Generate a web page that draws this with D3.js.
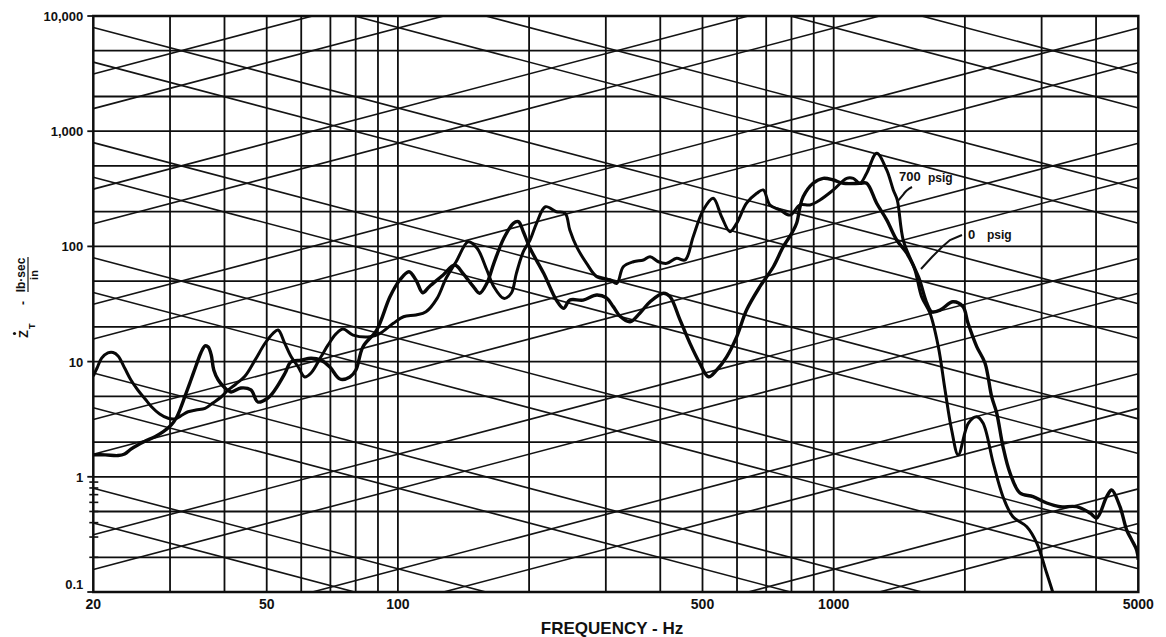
<!DOCTYPE html>
<html>
<head>
<meta charset="utf-8">
<script src="https://d3js.org/d3.v7.min.js"></script>
<style>
  body { margin: 0; background: #fff; }
  svg text { font-family: "Liberation Sans", Arial, sans-serif; font-weight: bold; fill: #111; }
</style>
</head>
<body>
<svg id="chart" width="1166" height="637"></svg>
<script>
// trace: 0 psig
const freq0 = [20, 21.3, 22.8, 23.6, 24.4, 25.3, 26.4, 27.7, 28.9, 30.2, 31.0, 31.8, 32.6, 33.5, 34.4, 35.3, 36.1, 36.7, 37.3, 37.8,
  38.7, 39.9, 41.4, 43.6, 46.0, 47.7, 50.3, 52.2, 55.1, 56.8, 59.9, 63.2, 66.6, 69.8, 73.6, 77.6, 80.1, 83.1, 89.4, 95.9,
  101, 106, 110, 114, 118, 127, 135, 141, 149, 154, 160, 166, 175, 184, 189, 194, 201, 216, 231, 240,
  248, 266, 286, 301, 312, 323, 341, 359, 379, 407, 421, 444, 468, 493, 516, 539, 568, 599, 631, 677,
  727, 766, 801, 822, 837, 851, 897, 946, 998, 1052, 1149, 1190, 1255, 1323, 1395, 1470, 1564, 1635, 1678, 1754,
  1878, 1980, 2033, 2129, 2224, 2304, 2366, 2446, 2538, 2676, 2867, 3081, 3306, 3611, 3874, 4013, 4231, 4344, 4539, 4703,
  4829, 4958, 5000];
const imp0 = [1.55, 1.55, 1.53, 1.58, 1.74, 1.89, 2.05, 2.23, 2.45, 2.82, 3.24, 4.04, 5.23, 6.92, 9.16, 11.9, 13.7, 13.4, 11.4, 8.45,
  6.92, 6.02, 5.45, 5.90, 5.67, 4.46, 4.83, 5.67, 7.96, 9.92, 10.3, 10.7, 10.3, 8.98, 7.06, 7.35, 8.45, 13.4, 18.8, 36.6,
  51.1, 60.3, 51.1, 39.6, 44.7, 56.4, 68.9, 58.4, 44.7, 39.2, 47.8, 71.3, 117.6, 158.7, 163.9, 134.2, 96.3, 58.4, 34.2, 29.0,
  34.2, 34.2, 37.9, 35.7, 30.0, 24.9, 22.2, 26.3, 33.1, 39.2, 36.6, 23.0, 14.4, 9.66, 7.39, 8.45, 11.0, 16.4, 28.0, 44.7,
  66.6, 99.4, 129.9, 158.7, 221, 270, 353, 390, 377, 353, 353, 353, 237, 170, 113.6, 87.7, 54.6, 32.3, 27.1, 28.0,
  33.1, 30.0, 21.6, 13.5, 9.72, 4.96, 3.58, 1.83, 1.08, 0.724, 0.672, 0.592, 0.550, 0.550, 0.485, 0.439, 0.672, 0.768, 0.550, 0.345,
  0.283, 0.231, 0.190];

// trace: 700 psig
const freq700 = [20, 20.4, 20.9, 21.6, 22.2, 22.8, 23.6, 24.4, 25.3, 26.3, 27.2, 28.4, 29.7, 30.8, 32.0, 33.0, 34.4, 36.1, 37.6, 39.3,
  40.8, 42.5, 44.6, 47.0, 49.6, 51.7, 53.1, 55.0, 56.9, 59.0, 61.1, 63.2, 66.6, 69.1, 72.1, 74.8, 78.9, 86.3, 91.0, 97.6,
  103, 110, 116, 123, 129, 136, 145, 152, 160, 166, 175, 182, 187, 194, 201, 208, 218, 231, 242, 248,
  257, 271, 286, 307, 318, 329, 347, 366, 379, 396, 414, 436, 456, 476, 502, 529, 553, 578, 599, 631,
  666, 689, 714, 753, 794, 837, 882, 930, 998, 1071, 1109, 1149, 1190, 1255, 1323, 1370, 1399, 1444, 1536, 1591,
  1663, 1738, 1801, 1865, 1931, 2036, 2129, 2201, 2324, 2446, 2578, 2774, 2924, 3081, 3186, 3271];
const imp700 = [7.5, 8.8, 10.7, 11.9, 12.0, 11.2, 8.8, 6.92, 5.67, 4.74, 4.06, 3.51, 3.22, 3.18, 3.44, 3.67, 3.80, 3.93, 4.37, 4.93,
  5.67, 6.39, 7.5, 10.3, 14.5, 17.6, 18.8, 14.4, 11.0, 9.03, 7.35, 7.96, 11.0, 13.9, 17.4, 19.2, 17.0, 16.4, 17.6, 21.5,
  24.5, 25.4, 27.1, 35.4, 52.9, 73.6, 109.8, 96.3, 62.4, 44.7, 35.4, 39.2, 58.4, 89.9, 113.6, 158.7, 221, 200, 193.8, 138.8,
  99.4, 71.3, 54.6, 51.1, 47.8, 66.6, 73.6, 76.2, 81.4, 73.6, 71.3, 78.8, 76.2, 121.4, 207, 261.5, 181, 134.2, 158.7, 237,
  289, 309, 229, 207, 187, 229, 229, 253, 309, 390, 390, 353, 431, 643, 461, 309, 253, 113.6, 62.4, 36.6,
  26.4, 13.5, 5.67, 2.55, 1.55, 2.91, 3.32, 2.93, 1.31, 0.672, 0.450, 0.369, 0.266, 0.146, 0.098, 0.070];

// axes and grid
const xTickValues = [20, 50, 100, 500, 1000, 5000];
const xTickLabels = ["20", "50", "100", "500", "1000", "5000"];
const yTickValues = [10000, 1000, 100, 10, 1, 0.1];
const yTickLabels = ["10,000", "1,000", "100", "10", "1", "0.1"];
const xGridValues = [30, 40, 50, 60, 70, 80, 90, 100, 200, 300, 400, 500, 600, 700, 800, 900, 1000, 2000, 3000, 4000];
const yGridValues = [0.2, 0.5, 1, 2, 5, 10, 20, 50, 100, 200, 500, 1000, 2000, 5000];
const yMinorTicks = [0.2, 0.3, 0.4, 0.5, 0.6, 0.7, 0.8, 0.9];
// diagonal lines: mass (Z = 2 pi f m) and stiffness (Z = k / 2 pi f)
const massLines = [1.25e-5, 2.5e-5, 1.25e-4, 2.5e-4, 1.25e-3, 2.5e-3, 0.0125, 0.025, 0.125, 0.25, 1.25, 2.5, 12.5, 25];
const stiffnessLines = [50, 100, 500, 1e3, 5e3, 1e4, 5e4, 1e5, 5e5, 1e6, 5e6, 1e7, 5e7, 1e8];

const svg = d3.select("#chart");
const plotL = 93.3, plotR = 1138.3, plotT = 16, plotB = 592;

const x = d3.scaleLog().domain([20, 5000]).range([plotL, plotR]);
const y = d3.scaleLog().domain([0.1, 10000]).range([plotB, plotT]);

svg.append("defs").append("clipPath").attr("id", "plotClip")
  .append("rect").attr("x", plotL).attr("y", plotT)
  .attr("width", plotR - plotL).attr("height", plotB - plotT);

const grid = svg.append("g").attr("clip-path", "url(#plotClip)");

// diagonals
const fEnds = [20, 5000];
grid.selectAll("line.mass").data(massLines).join("line")
  .attr("class", "mass")
  .attr("x1", x(fEnds[0])).attr("x2", x(fEnds[1]))
  .attr("y1", m => y(2 * Math.PI * fEnds[0] * m))
  .attr("y2", m => y(2 * Math.PI * fEnds[1] * m))
  .attr("stroke", "#141414").attr("stroke-width", 1.6);

grid.selectAll("line.stiff").data(stiffnessLines).join("line")
  .attr("class", "stiff")
  .attr("x1", x(fEnds[0])).attr("x2", x(fEnds[1]))
  .attr("y1", k => y(k / (2 * Math.PI * fEnds[0])))
  .attr("y2", k => y(k / (2 * Math.PI * fEnds[1])))
  .attr("stroke", "#141414").attr("stroke-width", 1.6);

// horizontal and vertical grid
grid.selectAll("line.hgrid").data(yGridValues).join("line")
  .attr("class", "hgrid")
  .attr("x1", plotL).attr("x2", plotR)
  .attr("y1", d => y(d)).attr("y2", d => y(d))
  .attr("stroke", "#0e0e0e").attr("stroke-width", 1.8);

grid.selectAll("line.vgrid").data(xGridValues).join("line")
  .attr("class", "vgrid")
  .attr("y1", plotT).attr("y2", plotB)
  .attr("x1", d => x(d)).attr("x2", d => x(d))
  .attr("stroke", "#0e0e0e").attr("stroke-width", 1.8);

// frame
svg.append("rect")
  .attr("x", plotL).attr("y", plotT)
  .attr("width", plotR - plotL).attr("height", plotB - plotT)
  .attr("fill", "none").attr("stroke", "#0e0e0e").attr("stroke-width", 2.5);

// y ticks
svg.selectAll("line.ytick").data(yTickValues).join("line")
  .attr("class", "ytick")
  .attr("x1", plotL - 6).attr("x2", plotL)
  .attr("y1", d => y(d)).attr("y2", d => y(d))
  .attr("stroke", "#111").attr("stroke-width", 1.8);

svg.selectAll("line.yminor").data(yMinorTicks).join("line")
  .attr("class", "yminor")
  .attr("x1", plotL - 4).attr("x2", plotL + 5)
  .attr("y1", d => y(d)).attr("y2", d => y(d))
  .attr("stroke", "#111").attr("stroke-width", 1.6);

svg.selectAll("text.ylab").data(yTickValues).join("text")
  .attr("class", "ylab")
  .attr("x", plotL - 10)
  .attr("y", d => d === 0.1 ? y(d) - 3 : y(d) + 5)
  .attr("text-anchor", "end")
  .attr("font-size", 13)
  .text((d, i) => yTickLabels[i]);

svg.selectAll("text.xlab").data(xTickValues).join("text")
  .attr("class", "xlab")
  .attr("x", d => x(d))
  .attr("y", 609)
  .attr("text-anchor", "middle")
  .attr("font-size", 14)
  .text((d, i) => xTickLabels[i]);

svg.append("text")
  .attr("x", 612).attr("y", 634)
  .attr("text-anchor", "middle")
  .attr("font-size", 17)
  .text("FREQUENCY - Hz");

// y axis title, rotated
const yt = svg.append("g").attr("transform", "translate(28,338) rotate(-90)");
yt.append("text").attr("x", 0).attr("y", 0).attr("font-size", 13).text("Z");
yt.append("circle").attr("cx", 4.5).attr("cy", -13.5).attr("r", 1.6).attr("fill", "#111");
yt.append("text").attr("x", 9).attr("y", 7).attr("font-size", 9).text("T");
yt.append("text").attr("x", 33).attr("y", -1).attr("font-size", 12).text("-");
yt.append("text").attr("x", 63).attr("y", -3).attr("text-anchor", "middle").attr("font-size", 12).text("lb·sec");
yt.append("line").attr("x1", 46).attr("x2", 81).attr("y1", 0).attr("y2", 0)
  .attr("stroke", "#111").attr("stroke-width", 1.2);
yt.append("text").attr("x", 63).attr("y", 10).attr("text-anchor", "middle").attr("font-size", 11).text("in");

// traces
const line = d3.line()
  .x(d => x(d[0]))
  .y(d => y(d[1]))
  .curve(d3.curveCatmullRom.alpha(0.5));

const curves = svg.append("g").attr("clip-path", "url(#plotClip)");
curves.append("path")
  .datum(d3.zip(freq0, imp0))
  .attr("d", line)
  .attr("fill", "none").attr("stroke", "#080808").attr("stroke-width", 3.4)
  .attr("stroke-linejoin", "round");
curves.append("path")
  .datum(d3.zip(freq700, imp700))
  .attr("d", line)
  .attr("fill", "none").attr("stroke", "#080808").attr("stroke-width", 3)
  .attr("stroke-linejoin", "round");

// curve labels with leaders
svg.append("text").attr("x", 899).attr("y", 181).attr("font-size", 13).text("700");
svg.append("text").attr("x", 928).attr("y", 182).attr("font-size", 12).text("psig");
svg.append("path")
  .attr("d", "M912,187 Q906,190 903,195 L897,202")
  .attr("fill", "none").attr("stroke", "#111").attr("stroke-width", 2);

svg.append("text").attr("x", 968).attr("y", 238.5).attr("font-size", 13).text("0");
svg.append("text").attr("x", 987).attr("y", 239).attr("font-size", 12).text("psig");
svg.append("path")
  .attr("d", "M962,235 L950,240 L942,247 L932,257 L921,269")
  .attr("fill", "none").attr("stroke", "#111").attr("stroke-width", 2);
</script>
</body>
</html>
